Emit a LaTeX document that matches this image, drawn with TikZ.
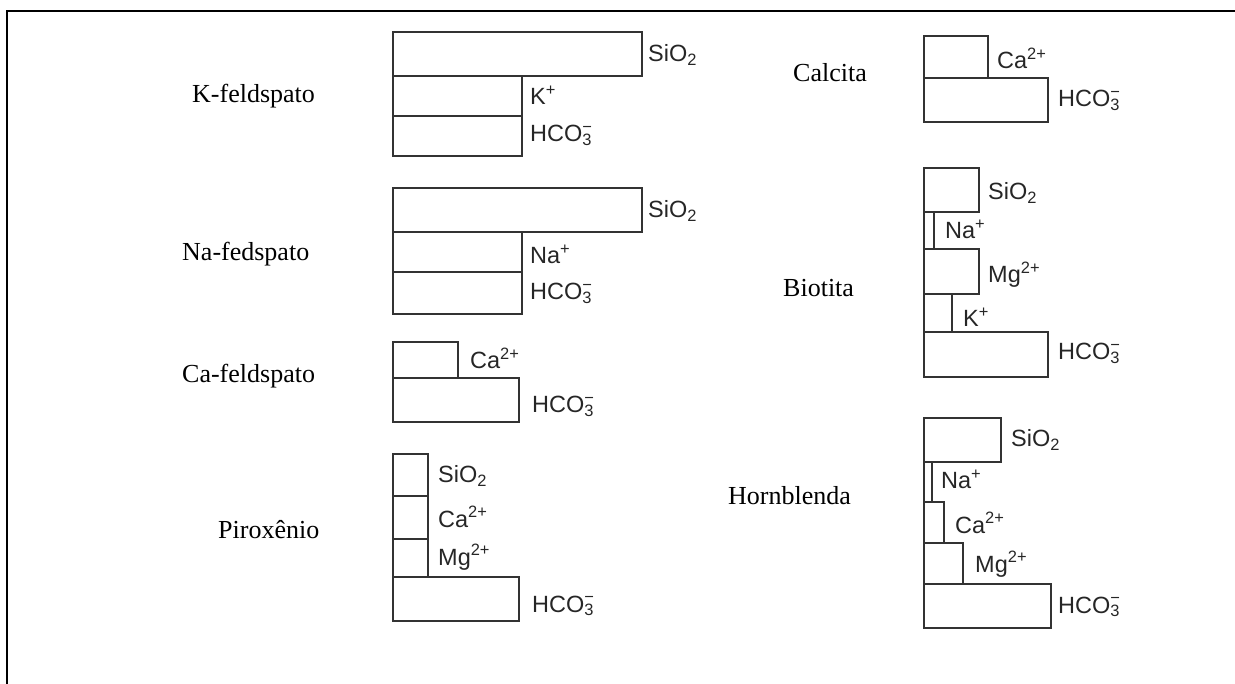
\documentclass[tikz,border=0pt]{standalone}
\usepackage{fontspec}
\setmainfont{Liberation Serif}
\setsansfont{Liberation Sans}
\newcommand{\hcoion}{HCO\rlap{\textsuperscript{−}}\textsubscript{3}}
\newcommand{\sioion}{SiO\textsubscript{2}}
\tikzset{
  bar/.style={draw=black!80, line width=1.6pt},
  mineral/.style={anchor=base west, inner sep=0pt, font=\fontsize{26}{30}\selectfont},
  ion/.style={anchor=base west, inner sep=0pt, text=black!85,
    font=\sffamily\fontsize{23.5}{28}\selectfont},
}

\begin{document}
\begin{tikzpicture}[x=1pt,y=-1pt]
        \useasboundingbox (0,0) rectangle (1235,684);
        \coordinate (c0) at (7,684);
        \coordinate (c1) at (7,11);
        \coordinate (c2) at (1235,11);
        \draw[line width=1.6pt] (c0) -- (c1) -- (c2);
        % left column
        \node (kf) [mineral] at (192,103) {K-feldspato};
        \draw[bar] (393,32) rectangle (642,76);
        \draw[bar] (393,76) rectangle (522,116);
        \draw[bar] (393,116) rectangle (522,156);
        \node (kf0) [ion] at (648,62) {\sioion};
        \node (kf1) [ion] at (530,105) {K\textsuperscript{+}};
        \node (kf2) [ion] at (530,142) {\hcoion};
        \node (nf) [mineral] at (182,261) {Na-fedspato};
        \draw[bar] (393,188) rectangle (642,232);
        \draw[bar] (393,232) rectangle (522,272);
        \draw[bar] (393,272) rectangle (522,314);
        \node (nf0) [ion] at (648,218) {\sioion};
        \node (nf1) [ion] at (530,264) {Na\textsuperscript{+}};
        \node (nf2) [ion] at (530,300) {\hcoion};
        \node (cf) [mineral] at (182,383) {Ca-feldspato};
        \draw[bar] (393,342) rectangle (458,378);
        \draw[bar] (393,378) rectangle (519,422);
        \node (cf0) [ion] at (470,369) {Ca\textsuperscript{2+}};
        \node (cf1) [ion] at (532,413) {\hcoion};
        \node (px) [mineral] at (218,538) {Piroxênio};
        \draw[bar] (393,454) rectangle (428,496);
        \draw[bar] (393,496) rectangle (428,539);
        \draw[bar] (393,539) rectangle (428,577);
        \draw[bar] (393,577) rectangle (519,621);
        \node (px0) [ion] at (438,483) {\sioion};
        \node (px1) [ion] at (438,527) {Ca\textsuperscript{2+}};
        \node (px2) [ion] at (438,565) {Mg\textsuperscript{2+}};
        \node (px3) [ion] at (532,612) {\hcoion};
        % right column
        \node (ct) [mineral] at (793,82) {Calcita};
        \draw[bar] (924,36) rectangle (988,78);
        \draw[bar] (924,78) rectangle (1048,122);
        \node (ct0) [ion] at (997,69) {Ca\textsuperscript{2+}};
        \node (ct1) [ion] at (1058,107) {\hcoion};
        \node (bt) [mineral] at (783,297) {Biotita};
        \draw[bar] (924,168) rectangle (979,212);
        \draw[bar] (924,212) rectangle (934,249);
        \draw[bar] (924,249) rectangle (979,294);
        \draw[bar] (924,294) rectangle (952,332);
        \draw[bar] (924,332) rectangle (1048,377);
        \node (bt0) [ion] at (988,200) {\sioion};
        \node (bt1) [ion] at (945,239) {Na\textsuperscript{+}};
        \node (bt2) [ion] at (988,283) {Mg\textsuperscript{2+}};
        \node (bt3) [ion] at (963,327) {K\textsuperscript{+}};
        \node (bt4) [ion] at (1058,360) {\hcoion};
        \node (hb) [mineral] at (728,504) {Hornblenda};
        \draw[bar] (924,418) rectangle (1001,462);
        \draw[bar] (924,462) rectangle (932,502);
        \draw[bar] (924,502) rectangle (944,543);
        \draw[bar] (924,543) rectangle (963,584);
        \draw[bar] (924,584) rectangle (1051,628);
        \node (hb0) [ion] at (1011,447) {\sioion};
        \node (hb1) [ion] at (941,489) {Na\textsuperscript{+}};
        \node (hb2) [ion] at (955,533) {Ca\textsuperscript{2+}};
        \node (hb3) [ion] at (975,572) {Mg\textsuperscript{2+}};
        \node (hb4) [ion] at (1058,613) {\hcoion};
\end{tikzpicture}
\end{document}
